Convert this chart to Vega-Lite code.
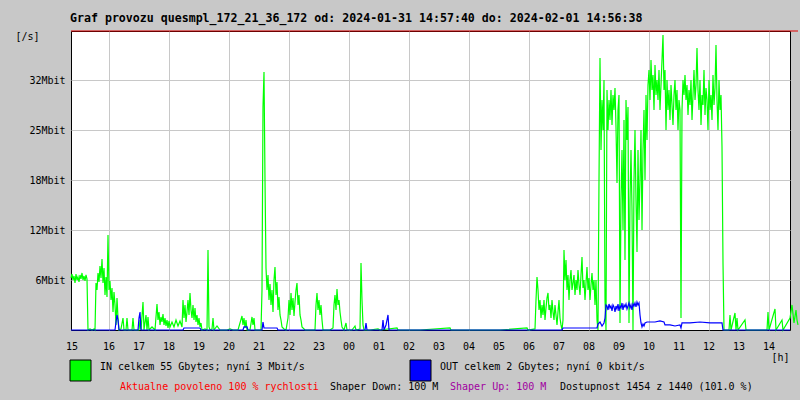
{
  "$schema": "https://vega.github.io/schema/vega-lite/v6.json",
  "width": 719,
  "height": 299,
  "autosize": {"type": "none"},
  "padding": {"left": 71, "top": 31, "right": 10, "bottom": 70},
  "background": "#c8c8c8",
  "view": {"fill": "white", "stroke": "black", "strokeWidth": 1},
  "config": {
    "font": "DejaVu Sans Mono",
    "axis": {"labelColor": "black", "titleColor": "black", "labelFont": "DejaVu Sans Mono", "titleFont": "DejaVu Sans Mono"}
  },
  "title": {
    "text": "Graf provozu quesmpl_172_21_36_172 od: 2024-01-31 14:57:40 do: 2024-02-01 14:56:38",
    "anchor": "start",
    "frame": "group",
    "font": "DejaVu Sans Mono",
    "fontSize": 11.6,
    "fontWeight": "bold",
    "color": "black",
    "baseline": "alphabetic",
    "offset": -3,
    "dx": -1
  },
  "datasets": {
    "in": [
      {"min":-76,"mbit":6.5},{"min":-74,"mbit":7},{"min":-72,"mbit":6.25},{"min":-70,"mbit":6.75},{"min":-68,"mbit":5.88},{"min":-66,"mbit":7},{"min":-64,"mbit":6.25},{"min":-62,"mbit":6.63},{"min":-60,"mbit":6},{"min":-58,"mbit":6.88},{"min":-56,"mbit":6.38},{"min":-54,"mbit":7.13},{"min":-52,"mbit":6.25},{"min":-50,"mbit":6.75},{"min":-48,"mbit":6.13},{"min":-46,"mbit":6.88},{"min":-44,"mbit":6.38},
      {"min":-42,"mbit":0},{"min":-38,"mbit":0.13},{"min":-34,"mbit":0},{"min":-30,"mbit":0.13},{"min":-28,"mbit":0},
      {"min":-26,"mbit":5.88},{"min":-24,"mbit":5},{"min":-22,"mbit":7.13},{"min":-20,"mbit":6},{"min":-18,"mbit":8},{"min":-16,"mbit":6.5},{"min":-14,"mbit":8.88},{"min":-12,"mbit":5.88},{"min":-10,"mbit":7.75},{"min":-8,"mbit":4.38},{"min":-6,"mbit":6.63},{"min":-4,"mbit":4.13},{"min":-2,"mbit":11.88},{"min":0,"mbit":5},{"min":2,"mbit":6.13},{"min":4,"mbit":3.75},{"min":6,"mbit":5.25},{"min":8,"mbit":2.25},{"min":10,"mbit":4.75},{"min":12,"mbit":3.13},{"min":14,"mbit":0.63},{"min":16,"mbit":4},{"min":18,"mbit":1.5},
      {"min":20,"mbit":0},{"min":24,"mbit":0.13},{"min":28,"mbit":1.5},{"min":30,"mbit":0},{"min":34,"mbit":0},{"min":36,"mbit":1.5},{"min":38,"mbit":0},{"min":46,"mbit":0},{"min":48,"mbit":1.5},{"min":50,"mbit":0},{"min":60,"mbit":0},{"min":62,"mbit":1.25},{"min":64,"mbit":0},{"min":68,"mbit":3.5},{"min":70,"mbit":0},{"min":74,"mbit":1.88},{"min":76,"mbit":0},{"min":78,"mbit":1.63},{"min":80,"mbit":0},{"min":86,"mbit":0.38},{"min":92,"mbit":0},
      {"min":96,"mbit":3.25},{"min":98,"mbit":1.25},{"min":100,"mbit":2.25},{"min":102,"mbit":0.63},{"min":104,"mbit":1.63},{"min":106,"mbit":1},{"min":108,"mbit":2},{"min":110,"mbit":0.63},{"min":112,"mbit":1.5},{"min":114,"mbit":0.5},{"min":116,"mbit":1.25},{"min":118,"mbit":0.25},{"min":120,"mbit":1.13},{"min":122,"mbit":0.38},{"min":126,"mbit":1},{"min":130,"mbit":0.38},{"min":134,"mbit":1.25},{"min":138,"mbit":0.5},{"min":142,"mbit":1.13},{"min":146,"mbit":0.38},
      {"min":148,"mbit":3.75},{"min":150,"mbit":1.5},{"min":152,"mbit":3.13},{"min":154,"mbit":1},{"min":156,"mbit":2.25},{"min":158,"mbit":3.75},{"min":160,"mbit":1.88},{"min":162,"mbit":4.63},{"min":164,"mbit":2.5},{"min":166,"mbit":1.5},{"min":168,"mbit":3.13},{"min":170,"mbit":1.25},{"min":172,"mbit":2.75},{"min":174,"mbit":1},{"min":176,"mbit":1.88},{"min":178,"mbit":0.63},{"min":180,"mbit":1.5},{"min":182,"mbit":0.38},{"min":184,"mbit":0.88},{"min":186,"mbit":0},
      {"min":192,"mbit":0.13},{"min":196,"mbit":0},{"min":198,"mbit":10},{"min":200,"mbit":0.38},{"min":202,"mbit":0},{"min":206,"mbit":0.13},{"min":208,"mbit":1.5},{"min":210,"mbit":0},{"min":216,"mbit":0.5},{"min":222,"mbit":0},{"min":236,"mbit":0},{"min":242,"mbit":0.13},{"min":248,"mbit":0},{"min":258,"mbit":0},
      {"min":266,"mbit":1.75},{"min":268,"mbit":0.63},{"min":270,"mbit":1.5},{"min":272,"mbit":0.25},{"min":274,"mbit":1.25},{"min":276,"mbit":0},{"min":282,"mbit":0},{"min":286,"mbit":1.63},{"min":288,"mbit":0.63},{"min":290,"mbit":1.5},{"min":292,"mbit":0},{"min":298,"mbit":0},{"min":304,"mbit":0},
      {"min":306,"mbit":5},{"min":308,"mbit":27.88},{"min":310,"mbit":32.25},{"min":312,"mbit":18.75},{"min":314,"mbit":7.75},{"min":316,"mbit":5},{"min":318,"mbit":6.88},{"min":320,"mbit":3.75},{"min":322,"mbit":5.75},{"min":324,"mbit":3.13},{"min":326,"mbit":5},{"min":328,"mbit":2.25},{"min":330,"mbit":6.25},{"min":332,"mbit":7.88},{"min":334,"mbit":4.38},{"min":336,"mbit":6},{"min":338,"mbit":2.5},{"min":340,"mbit":4.13},{"min":342,"mbit":1.88},{"min":344,"mbit":1.25},{"min":346,"mbit":0.38},{"min":350,"mbit":0.13},{"min":354,"mbit":0},
      {"min":358,"mbit":1.5},{"min":360,"mbit":3.75},{"min":362,"mbit":1.88},{"min":364,"mbit":4.63},{"min":366,"mbit":2.5},{"min":368,"mbit":4},{"min":370,"mbit":1.75},{"min":372,"mbit":3.5},{"min":374,"mbit":5},{"min":376,"mbit":5.88},{"min":378,"mbit":3.13},{"min":380,"mbit":4.38},{"min":382,"mbit":1.88},{"min":384,"mbit":1.25},{"min":386,"mbit":0.38},{"min":392,"mbit":0},{"min":402,"mbit":0},{"min":412,"mbit":0},
      {"min":414,"mbit":3.13},{"min":416,"mbit":4.63},{"min":418,"mbit":2.5},{"min":420,"mbit":3.75},{"min":422,"mbit":1.88},{"min":424,"mbit":3.13},{"min":426,"mbit":1.25},{"min":428,"mbit":0},{"min":442,"mbit":0},
      {"min":448,"mbit":0.25},{"min":450,"mbit":3.13},{"min":452,"mbit":4.38},{"min":454,"mbit":2.5},{"min":456,"mbit":5.13},{"min":458,"mbit":3.13},{"min":460,"mbit":3.75},{"min":462,"mbit":2.25},{"min":464,"mbit":1.25},{"min":466,"mbit":0.38},{"min":470,"mbit":0},{"min":474,"mbit":0.88},{"min":476,"mbit":0},{"min":486,"mbit":0},{"min":492,"mbit":0.5},{"min":494,"mbit":0},
      {"min":502,"mbit":0.13},{"min":504,"mbit":8.38},{"min":506,"mbit":3.75},{"min":508,"mbit":0.63},{"min":510,"mbit":0},{"min":522,"mbit":0},{"min":538,"mbit":0.13},{"min":542,"mbit":0},{"min":576,"mbit":0.25},{"min":578,"mbit":0},{"min":622,"mbit":0},{"min":682,"mbit":0.25},{"min":684,"mbit":0},{"min":782,"mbit":0},{"min":836,"mbit":0.25},{"min":838,"mbit":0},{"min":852,"mbit":0.13},
      {"min":854,"mbit":3.75},{"min":856,"mbit":6.63},{"min":858,"mbit":5},{"min":860,"mbit":2.5},{"min":862,"mbit":3.75},{"min":864,"mbit":1.5},{"min":866,"mbit":3.13},{"min":868,"mbit":1.88},{"min":870,"mbit":3.75},{"min":872,"mbit":1.25},{"min":874,"mbit":2.75},{"min":876,"mbit":4},{"min":878,"mbit":4.63},{"min":880,"mbit":2.5},{"min":882,"mbit":3.13},{"min":884,"mbit":1.5},{"min":886,"mbit":3.75},{"min":888,"mbit":2.25},{"min":890,"mbit":1.25},{"min":892,"mbit":3.13},{"min":894,"mbit":1.88},{"min":896,"mbit":0.63},{"min":898,"mbit":2.25},{"min":900,"mbit":3.75},{"min":902,"mbit":1.5},{"min":904,"mbit":0.63},{"min":906,"mbit":0},
      {"min":908,"mbit":1.25},{"min":910,"mbit":10},{"min":912,"mbit":6.25},{"min":914,"mbit":8.75},{"min":916,"mbit":5},{"min":918,"mbit":6.88},{"min":920,"mbit":3.75},{"min":922,"mbit":6.25},{"min":924,"mbit":7.5},{"min":926,"mbit":5},{"min":928,"mbit":5.88},{"min":930,"mbit":6.88},{"min":932,"mbit":4.38},{"min":934,"mbit":6.25},{"min":936,"mbit":5},{"min":938,"mbit":7.5},{"min":940,"mbit":5.63},{"min":942,"mbit":4.38},{"min":944,"mbit":6.88},{"min":946,"mbit":9.13},{"min":948,"mbit":5.25},{"min":950,"mbit":6.25},{"min":952,"mbit":3.75},{"min":954,"mbit":5.88},{"min":956,"mbit":7.88},{"min":958,"mbit":5},{"min":960,"mbit":6.5},{"min":962,"mbit":3.75},{"min":964,"mbit":5.63},{"min":966,"mbit":7.13},{"min":968,"mbit":5},{"min":970,"mbit":6.25},{"min":972,"mbit":3.13},{"min":974,"mbit":6.25},{"min":976,"mbit":1.25},{"min":978,"mbit":0},
      {"min":980,"mbit":18.75},{"min":982,"mbit":34},{"min":984,"mbit":22.5},{"min":986,"mbit":28.75},{"min":988,"mbit":25},{"min":990,"mbit":31.25},{"min":992,"mbit":3.75},{"min":994,"mbit":0},{"min":996,"mbit":30},{"min":998,"mbit":25},{"min":1000,"mbit":28.75},{"min":1002,"mbit":26.25},{"min":1004,"mbit":30},{"min":1006,"mbit":25.63},{"min":1008,"mbit":29.38},{"min":1010,"mbit":27.5},{"min":1012,"mbit":30.25},{"min":1014,"mbit":25.38},{"min":1016,"mbit":18.38},{"min":1018,"mbit":27.5},{"min":1020,"mbit":29.38},{"min":1022,"mbit":0.88},{"min":1024,"mbit":16.25},{"min":1026,"mbit":22.5},{"min":1028,"mbit":12.5},{"min":1030,"mbit":26.25},{"min":1032,"mbit":8.75},{"min":1034,"mbit":28.75},{"min":1036,"mbit":23.75},{"min":1038,"mbit":27.88},{"min":1040,"mbit":0.88},{"min":1042,"mbit":16.25},{"min":1044,"mbit":22.5},{"min":1046,"mbit":15},{"min":1048,"mbit":0},{"min":1050,"mbit":18.75},{"min":1052,"mbit":25},{"min":1054,"mbit":16.25},{"min":1056,"mbit":9.75},{"min":1058,"mbit":22.5},{"min":1060,"mbit":13.75},{"min":1062,"mbit":18.75},{"min":1064,"mbit":25},{"min":1066,"mbit":12.5},{"min":1068,"mbit":22.5},{"min":1070,"mbit":27.5},{"min":1072,"mbit":18.75},{"min":1074,"mbit":29.38},{"min":1076,"mbit":23.75},
      {"min":1078,"mbit":30.63},{"min":1080,"mbit":32.5},{"min":1082,"mbit":28.75},{"min":1084,"mbit":33.75},{"min":1086,"mbit":30},{"min":1088,"mbit":31.88},{"min":1090,"mbit":27.5},{"min":1092,"mbit":33.13},{"min":1094,"mbit":29.38},{"min":1096,"mbit":31.25},{"min":1098,"mbit":28.75},{"min":1100,"mbit":32.5},{"min":1102,"mbit":27.5},{"min":1104,"mbit":30.63},{"min":1106,"mbit":33.75},{"min":1108,"mbit":36.88},{"min":1110,"mbit":30},{"min":1112,"mbit":32.5},{"min":1114,"mbit":25},{"min":1116,"mbit":31.25},{"min":1118,"mbit":27.5},{"min":1120,"mbit":30},{"min":1122,"mbit":26.25},{"min":1124,"mbit":30.63},{"min":1126,"mbit":28.13},{"min":1128,"mbit":25.63},{"min":1130,"mbit":29.38},{"min":1132,"mbit":31.25},{"min":1134,"mbit":27.5},{"min":1136,"mbit":30},{"min":1138,"mbit":25},{"min":1140,"mbit":28.75},{"min":1142,"mbit":27.5},{"min":1144,"mbit":1.5},
      {"min":1146,"mbit":27.5},{"min":1148,"mbit":31.25},{"min":1150,"mbit":29.38},{"min":1152,"mbit":31.88},{"min":1154,"mbit":28.75},{"min":1156,"mbit":30.63},{"min":1158,"mbit":26.88},{"min":1160,"mbit":30},{"min":1162,"mbit":28.13},{"min":1164,"mbit":31.25},{"min":1166,"mbit":26.25},{"min":1168,"mbit":29.38},{"min":1170,"mbit":32.5},{"min":1172,"mbit":28.75},{"min":1174,"mbit":30.63},{"min":1176,"mbit":35.25},{"min":1178,"mbit":30},{"min":1180,"mbit":27.5},{"min":1182,"mbit":31.25},{"min":1184,"mbit":25.63},{"min":1186,"mbit":29.38},{"min":1188,"mbit":28.13},{"min":1190,"mbit":32.5},{"min":1192,"mbit":26.88},{"min":1194,"mbit":30.25},{"min":1196,"mbit":28.75},{"min":1198,"mbit":25},{"min":1200,"mbit":31.25},{"min":1202,"mbit":27.5},{"min":1204,"mbit":29.38},{"min":1206,"mbit":26.25},{"min":1208,"mbit":31.88},{"min":1210,"mbit":28.13},{"min":1212,"mbit":30.25},{"min":1214,"mbit":35.63},{"min":1216,"mbit":28.75},{"min":1218,"mbit":25},{"min":1220,"mbit":31.25},{"min":1222,"mbit":27.5},{"min":1224,"mbit":29.38},{"min":1226,"mbit":22.88},{"min":1228,"mbit":8.38},{"min":1230,"mbit":0},
      {"min":1240,"mbit":0},{"min":1242,"mbit":1.88},{"min":1244,"mbit":0},{"min":1252,"mbit":2.13},{"min":1254,"mbit":0},{"min":1256,"mbit":1.5},{"min":1258,"mbit":0},{"min":1272,"mbit":1.25},{"min":1274,"mbit":0},{"min":1316,"mbit":0},{"min":1318,"mbit":2.25},{"min":1320,"mbit":0},{"min":1332,"mbit":2.63},{"min":1334,"mbit":0},{"min":1346,"mbit":1.25},{"min":1348,"mbit":0},{"min":1362,"mbit":1.5},{"min":1366,"mbit":3.13},{"min":1370,"mbit":0.88},{"min":1374,"mbit":2.5},{"min":1376,"mbit":1.25},{"min":1378,"mbit":0.63}
    ],
    "out": [
      {"min":-76,"mbit":0},{"min":12,"mbit":0},{"min":14,"mbit":1},{"min":16,"mbit":1.88},{"min":18,"mbit":1.25},{"min":20,"mbit":0},{"min":58,"mbit":0},{"min":60,"mbit":1.5},{"min":62,"mbit":2.25},{"min":64,"mbit":0},{"min":148,"mbit":0},{"min":150,"mbit":0.25},{"min":182,"mbit":0.25},{"min":184,"mbit":0},{"min":268,"mbit":0},{"min":270,"mbit":0.38},{"min":276,"mbit":0.38},{"min":278,"mbit":0},{"min":306,"mbit":0},{"min":308,"mbit":1},{"min":310,"mbit":0.25},{"min":336,"mbit":0.25},{"min":338,"mbit":0},{"min":512,"mbit":0},{"min":514,"mbit":0.88},{"min":516,"mbit":0},{"min":546,"mbit":0},{"min":548,"mbit":1.25},{"min":550,"mbit":0},{"min":554,"mbit":0.63},{"min":556,"mbit":1.25},{"min":558,"mbit":1.88},{"min":560,"mbit":0},{"min":906,"mbit":0},{"min":908,"mbit":0.25},{"min":976,"mbit":0.25},{"min":978,"mbit":0.75},{"min":982,"mbit":1},{"min":986,"mbit":0.5},{"min":990,"mbit":0.88},{"min":992,"mbit":1.5},{"min":994,"mbit":3.13},{"min":996,"mbit":3},{"min":998,"mbit":2.5},{"min":1000,"mbit":3.25},{"min":1002,"mbit":2.75},{"min":1004,"mbit":3},{"min":1006,"mbit":2.38},{"min":1008,"mbit":3.13},{"min":1010,"mbit":2.88},{"min":1012,"mbit":2.25},{"min":1014,"mbit":3},{"min":1016,"mbit":2.63},{"min":1018,"mbit":3.25},{"min":1020,"mbit":2.38},{"min":1022,"mbit":3},{"min":1024,"mbit":2.75},{"min":1026,"mbit":3.38},{"min":1028,"mbit":2.5},{"min":1030,"mbit":3.13},{"min":1032,"mbit":2.88},{"min":1034,"mbit":3.25},{"min":1036,"mbit":2.63},{"min":1038,"mbit":3},{"min":1040,"mbit":3.38},{"min":1042,"mbit":2.75},{"min":1044,"mbit":3.13},{"min":1046,"mbit":2.5},{"min":1048,"mbit":3.25},{"min":1050,"mbit":3},{"min":1052,"mbit":3.38},{"min":1054,"mbit":2.88},{"min":1056,"mbit":3.5},{"min":1058,"mbit":3.13},{"min":1060,"mbit":3.38},{"min":1062,"mbit":1.88},{"min":1064,"mbit":0.88},{"min":1066,"mbit":0.38},{"min":1068,"mbit":0.75},{"min":1070,"mbit":0.5},{"min":1072,"mbit":0.88},{"min":1076,"mbit":1},{"min":1082,"mbit":1},{"min":1092,"mbit":1},{"min":1102,"mbit":1.13},{"min":1110,"mbit":1},{"min":1112,"mbit":0.63},{"min":1122,"mbit":0.63},{"min":1132,"mbit":0.5},{"min":1142,"mbit":0.63},{"min":1144,"mbit":0.25},{"min":1146,"mbit":0.88},{"min":1162,"mbit":0.88},{"min":1182,"mbit":1},{"min":1202,"mbit":0.88},{"min":1222,"mbit":0.88},{"min":1226,"mbit":0.88},{"min":1228,"mbit":0},{"min":1362,"mbit":0}
    ],
    "hours": [
      {"min":-74,"hour":"15"},{"min":0,"hour":"16"},{"min":60,"hour":"17"},{"min":120,"hour":"18"},{"min":180,"hour":"19"},{"min":240,"hour":"20"},{"min":300,"hour":"21"},{"min":360,"hour":"22"},{"min":420,"hour":"23"},{"min":480,"hour":"00"},{"min":540,"hour":"01"},{"min":600,"hour":"02"},{"min":660,"hour":"03"},{"min":720,"hour":"04"},{"min":780,"hour":"05"},{"min":840,"hour":"06"},{"min":900,"hour":"07"},{"min":960,"hour":"08"},{"min":1020,"hour":"09"},{"min":1080,"hour":"10"},{"min":1140,"hour":"11"},{"min":1200,"hour":"12"},{"min":1260,"hour":"13"},{"min":1320,"hour":"14"}
    ],
    "one": [{}]
  },
  "layer": [
    {
      "data": {"name": "in"},
      "mark": {"type": "line", "color": "#00ff00", "strokeWidth": 1.2, "clip": false},
      "encoding": {
        "x": {
          "field": "min",
          "type": "quantitative",
          "scale": {"domain": [-76, 1362], "nice": false, "zero": false},
          "axis": {
            "values": [0, 60, 120, 180, 240, 300, 360, 420, 480, 540, 600, 660, 720, 780, 840, 900, 960, 1020, 1080, 1140, 1200, 1260, 1320],
            "domain": false,
            "ticks": false,
            "tickSize": 0,
            "grid": true,
            "gridColor": "#c8c8c8",
            "labels": false,
            "title": "[h]",
            "titleFontSize": 10,
            "titleFontWeight": "normal",
            "titleX": 700,
            "titleY": 27,
            "titleAlign": "left",
            "titleBaseline": "middle",
            "titleAngle": 0
          }
        },
        "y": {
          "field": "mbit",
          "type": "quantitative",
          "scale": {"domain": [0, 37.375], "nice": false, "zero": true},
          "axis": {
            "values": [6.25, 12.5, 18.75, 25, 31.25],
            "labelExpr": "datum.value > 31 ? '32Mbit' : floor(datum.value) + 'Mbit'",
            "domain": false,
            "ticks": false,
            "tickSize": 0,
            "grid": true,
            "gridColor": "#c8c8c8",
            "labelFontSize": 10,
            "labelPadding": 6,
            "labelBaseline": "middle",
            "title": "[/s]",
            "titleFontSize": 10,
            "titleFontWeight": "normal",
            "titleAngle": 0,
            "titleX": -56,
            "titleY": 5,
            "titleAlign": "left",
            "titleBaseline": "middle"
          }
        }
      }
    },
    {
      "data": {"name": "out"},
      "mark": {"type": "line", "color": "#0000ff", "strokeWidth": 1.2, "clip": false},
      "encoding": {
        "x": {"field": "min", "type": "quantitative"},
        "y": {"field": "mbit", "type": "quantitative"}
      }
    },
    {
      "data": {"name": "hours"},
      "mark": {"type": "text", "align": "center", "baseline": "middle", "fontSize": 10, "color": "black"},
      "encoding": {
        "x": {"field": "min", "type": "quantitative"},
        "y": {"datum": -2.125},
        "text": {"field": "hour"}
      }
    },
    {
      "data": {"name": "one"},
      "mark": {"type": "rule", "color": "#e00000", "strokeWidth": 1},
      "encoding": {
        "x": {"datum": -76},
        "x2": {"datum": 1378},
        "y": {"datum": 37.375}
      }
    },
    {
      "data": {"name": "one"},
      "mark": {"type": "rect", "color": "#00ff00", "stroke": "black", "strokeWidth": 1},
      "encoding": {
        "x": {"datum": -78}, "x2": {"datum": -36},
        "y": {"datum": -3.75}, "y2": {"datum": -6.375}
      }
    },
    {
      "data": {"name": "one"},
      "mark": {"type": "rect", "color": "#0000ff", "stroke": "black", "strokeWidth": 1},
      "encoding": {
        "x": {"datum": 602}, "x2": {"datum": 644},
        "y": {"datum": -3.75}, "y2": {"datum": -6.375}
      }
    },
    {
      "data": {"name": "one"},
      "mark": {"type": "text", "align": "left", "baseline": "middle", "fontSize": 10, "color": "black"},
      "encoding": {"x": {"datum": -18}, "y": {"datum": -4.625}, "text": {"value": "IN celkem 55 Gbytes; nyní 3 Mbit/s"}}
    },
    {
      "data": {"name": "one"},
      "mark": {"type": "text", "align": "left", "baseline": "middle", "fontSize": 10, "color": "black"},
      "encoding": {"x": {"datum": 662}, "y": {"datum": -4.625}, "text": {"value": "OUT celkem 2 Gbytes; nyní 0 kbit/s"}}
    },
    {
      "data": {"name": "one"},
      "mark": {"type": "text", "align": "left", "baseline": "middle", "fontSize": 10, "color": "#ff0000"},
      "encoding": {"x": {"datum": 22}, "y": {"datum": -7.125}, "text": {"value": "Aktualne povoleno 100 % rychlosti"}}
    },
    {
      "data": {"name": "one"},
      "mark": {"type": "text", "align": "left", "baseline": "middle", "fontSize": 10, "color": "black"},
      "encoding": {"x": {"datum": 442}, "y": {"datum": -7.125}, "text": {"value": "Shaper Down: 100 M"}}
    },
    {
      "data": {"name": "one"},
      "mark": {"type": "text", "align": "left", "baseline": "middle", "fontSize": 10, "color": "#a000a0"},
      "encoding": {"x": {"datum": 682}, "y": {"datum": -7.125}, "text": {"value": "Shaper Up: 100 M"}}
    },
    {
      "data": {"name": "one"},
      "mark": {"type": "text", "align": "left", "baseline": "middle", "fontSize": 10, "color": "black"},
      "encoding": {"x": {"datum": 902}, "y": {"datum": -7.125}, "text": {"value": "Dostupnost 1454 z 1440 (101.0 %)"}}
    }
  ]
}
